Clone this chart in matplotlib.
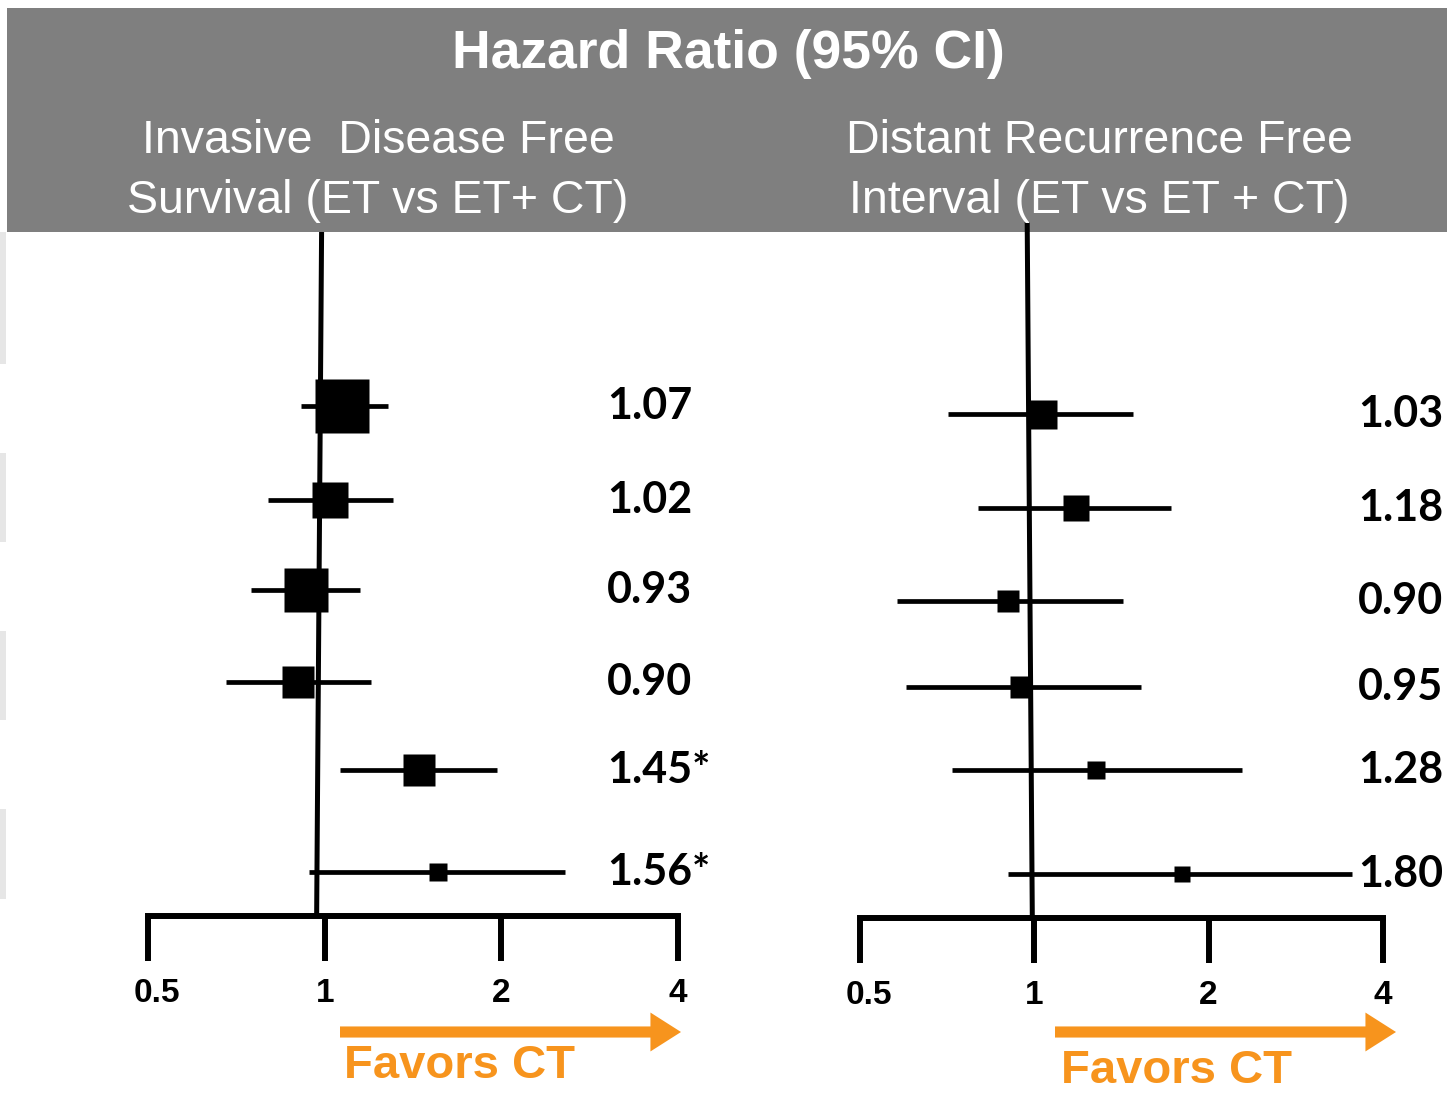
import matplotlib
matplotlib.use("Agg")
import matplotlib.pyplot as plt
from matplotlib.patches import Rectangle, FancyArrowPatch
from matplotlib.transforms import blended_transform_factory

W, H = 1447, 1095

# Invasive disease free survival (ET vs ET + CT)
idfs_hr = [1.07, 1.02, 0.93, 0.90, 1.45, 1.56]
idfs_lo = [0.91, 0.80, 0.75, 0.68, 1.06, 0.94]
idfs_hi = [1.28, 1.31, 1.15, 1.20, 1.97, 2.57]
idfs_labels = ["1.07", "1.02", "0.93", "0.90", "1.45*", "1.56*"]

# Distant recurrence free interval (ET vs ET + CT)
drfi_hr = [1.03, 1.18, 0.90, 0.95, 1.28, 1.80]
drfi_lo = [0.71, 0.80, 0.58, 0.60, 0.72, 0.90]
drfi_hi = [1.48, 1.72, 1.42, 1.53, 2.28, 3.54]
drfi_labels = ["1.03", "1.18", "0.90", "0.95", "1.28", "1.80"]

ticks = [0.5, 1, 2, 4]
tick_labels = ["0.5", "1", "2", "4"]

GRAY = "#7f7f7f"
ORANGE = "#f7941d"
ARIAL = "Liberation Sans"
VALUE_FONT = "Lato"

fig = plt.figure(figsize=(W / 100, H / 100), dpi=100)
fig.patch.set_facecolor("white")


def fx(x):
    return x / W


def fy(y):
    return 1 - y / H


# grey title band
fig.add_artist(Rectangle((fx(7), fy(232)), fx(W - 7), 224 / H,
                         transform=fig.transFigure, facecolor=GRAY,
                         edgecolor="none", zorder=-1))
# faint slide edge marks on the left
for y0, y1 in [(232, 364), (453, 542), (631, 720), (809, 899)]:
    fig.add_artist(Rectangle((0, fy(y1)), fx(6), (y1 - y0) / H,
                             transform=fig.transFigure, facecolor="#e6e6e6",
                             edgecolor="none", zorder=-1))

fig.text(fx(728), fy(54), "Hazard Ratio (95% CI)", color="white",
         fontsize=38.5, fontweight="bold", family=ARIAL,
         ha="center", va="center")
fig.text(fx(378), fy(171), "Invasive  Disease Free\nSurvival (ET vs ET+ CT)",
         color="white", fontsize=33.5, family=ARIAL,
         ha="center", va="center", linespacing=1.45)
fig.text(fx(1099), fy(171), "Distant Recurrence Free\nInterval (ET vs ET + CT)",
         color="white", fontsize=33.5, family=ARIAL,
         ha="center", va="center", linespacing=1.45)


def forest(x0, x1, hr, lo, hi, labels, sizes, rows, ref_top, ref_x,
           axis_y, label_col, arrow_x, text_x, text_y):
    ax = fig.add_axes([fx(x0), 0, (x1 - x0) / W, 1])
    ax.set_xscale("log", base=2)
    ax.set_xlim(0.5, 4)
    ax.set_ylim(H, 0)
    ax.axis("off")
    col = blended_transform_factory(fig.transFigure, ax.transData)

    # line of no effect
    ax.plot(ref_x, [ref_top, axis_y], color="black", lw=3.6,
            solid_capstyle="butt", zorder=2)

    for y, h, l, u, s, lab in zip(rows, hr, lo, hi, sizes, labels):
        ax.plot([l, u], [y, y], color="black", lw=3.4,
                solid_capstyle="butt", zorder=3)
        ax.plot([h], [y], marker="s", ms=s * 0.72, color="black",
                mec="none", zorder=4)
        ax.text(fx(label_col), y, lab, fontsize=31, fontweight="bold",
                family=VALUE_FONT, ha="left", va="center",
                transform=col, clip_on=False)

    # hand-drawn style axis
    ax.plot([0.5, 4], [axis_y, axis_y], color="black", lw=4.3,
            solid_capstyle="projecting", clip_on=False, zorder=2)
    for t, tl in zip(ticks, tick_labels):
        ax.plot([t, t], [axis_y, axis_y + 45], color="black", lw=4.3,
                solid_capstyle="butt", clip_on=False, zorder=2)
        ax.text(t * (1.035 if t == 0.5 else 1.0), axis_y + 77, tl,
                fontsize=24, fontweight="bold", family=ARIAL,
                ha="center", va="center", clip_on=False)

    # favours chemotherapy arrow
    fig.add_artist(FancyArrowPatch(
        (arrow_x[0], H - 1032), (arrow_x[1], H - 1032), transform=None,
        arrowstyle="simple,head_length=0.55,head_width=0.7,tail_width=0.2",
        mutation_scale=40, color=ORANGE, lw=0, shrinkA=0, shrinkB=0))
    fig.text(fx(text_x), fy(text_y), "Favors CT", color=ORANGE, fontsize=34,
             fontweight="bold", family=ARIAL, ha="left", va="center")
    return ax


forest(148, 678, idfs_hr, idfs_lo, idfs_hi, idfs_labels,
       sizes=[54, 36, 44, 32, 32, 18],
       rows=[406, 500, 590, 682, 770, 872],
       ref_top=232, ref_x=[0.988, 0.969], axis_y=916, label_col=607,
       arrow_x=(340, 681), text_x=344, text_y=1066)
forest(860, 1383, drfi_hr, drfi_lo, drfi_hi, drfi_labels,
       sizes=[29, 26, 22, 23, 18, 16],
       rows=[414, 508, 601, 687, 770, 874],
       ref_top=222, ref_x=[0.972, 0.992], axis_y=918, label_col=1358,
       arrow_x=(1055, 1396), text_x=1061, text_y=1071)

fig.savefig("out.png", dpi=100, facecolor="white")
